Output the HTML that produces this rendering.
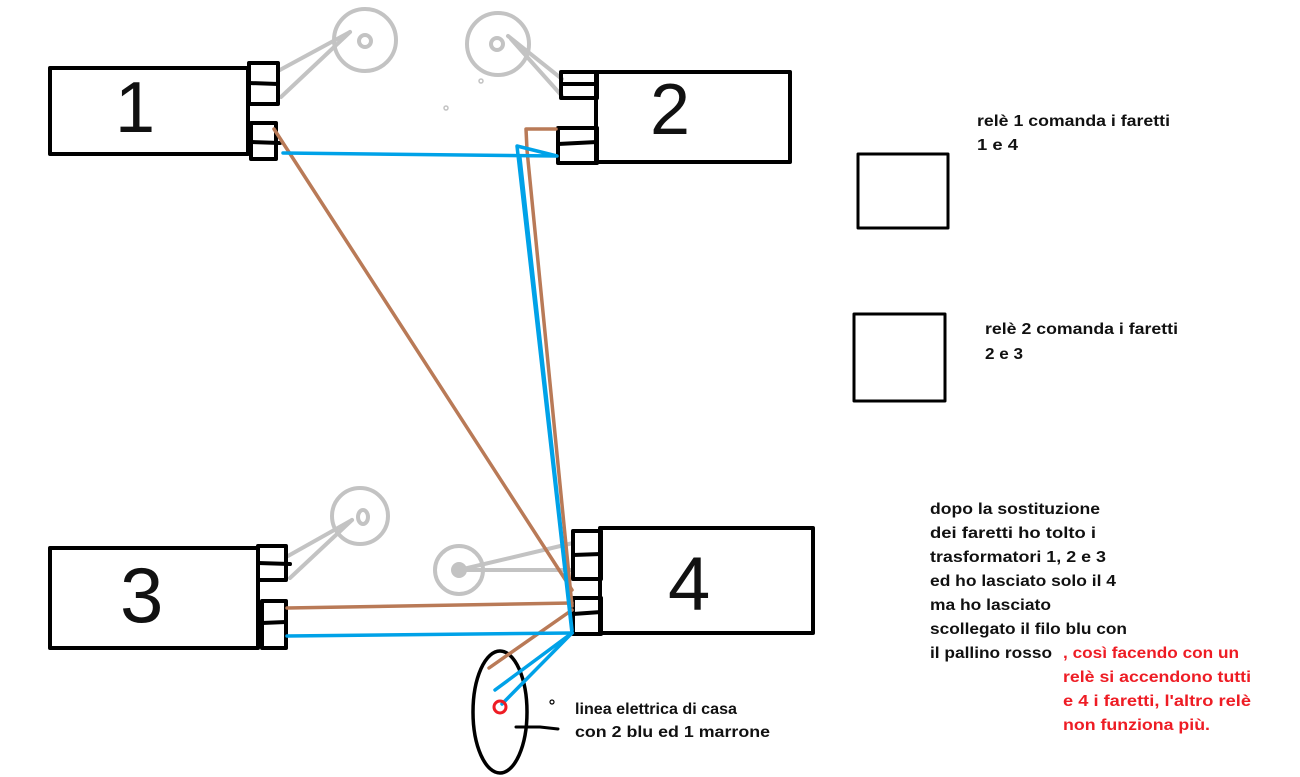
<!DOCTYPE html>
<html><head><meta charset="utf-8"><style>
html,body{margin:0;padding:0;background:#fff;}
svg{display:block;}
text{font-family:"Liberation Sans",sans-serif;font-weight:bold;font-size:16px;fill:#111;}
.r{fill:#ee1c24;}
</style></head><body>
<svg width="1300" height="777" viewBox="0 0 1300 777" xmlns="http://www.w3.org/2000/svg">
<g fill="none" stroke-linecap="round" stroke-linejoin="round">
<!-- lamps gray -->
<g stroke="#c3c3c3" stroke-width="4">
<circle cx="365" cy="40" r="31"/><circle cx="365" cy="41" r="6"/>
<line x1="278" y1="71" x2="350" y2="32"/><line x1="281" y1="97" x2="350" y2="32"/>
<circle cx="498" cy="44" r="31"/><circle cx="497" cy="44" r="6"/>
<line x1="508" y1="36" x2="562" y2="79"/><line x1="511" y1="39" x2="562" y2="96"/>
<circle cx="360" cy="516" r="28"/><ellipse cx="363" cy="517" rx="5" ry="7"/>
<line x1="288" y1="556" x2="352" y2="520"/><line x1="290" y1="578" x2="352" y2="520"/>
<circle cx="459" cy="570" r="24"/><circle cx="459" cy="570" r="6" fill="#c3c3c3"/>
<line x1="459" y1="570" x2="573" y2="543"/><line x1="459" y1="570" x2="573" y2="570"/>
<circle cx="481" cy="81" r="2" stroke-width="1.5"/><circle cx="446" cy="108" r="2" stroke-width="1.5"/>
</g>
<!-- boxes -->
<g stroke="#000" stroke-width="4">
<rect x="50" y="68" width="198" height="86"/>
<rect x="249" y="63" width="29" height="41"/><line x1="249" y1="83" x2="278" y2="84"/>
<rect x="251" y="123" width="25" height="36"/><line x1="251" y1="142" x2="280" y2="143"/>
<rect x="596" y="72" width="194" height="90"/>
<rect x="561" y="72" width="36" height="26"/><line x1="561" y1="84" x2="597" y2="84"/>
<rect x="558" y="128" width="39" height="35"/><line x1="558" y1="144" x2="597" y2="142"/>
<rect x="50" y="548" width="208" height="100"/>
<rect x="258" y="546" width="28" height="34"/><line x1="258" y1="563" x2="290" y2="564"/>
<rect x="262" y="601" width="24" height="47"/><line x1="262" y1="623" x2="286" y2="622"/>
<rect x="600" y="528" width="213" height="105"/>
<rect x="573" y="531" width="28" height="48"/><line x1="573" y1="555" x2="601" y2="554"/>
<rect x="573" y="598" width="28" height="36"/><line x1="573" y1="614" x2="601" y2="612"/>
<rect x="858" y="154" width="90" height="74" stroke-width="3"/>
<rect x="854" y="314" width="91" height="87" stroke-width="3"/>
<ellipse cx="500" cy="712" rx="27" ry="61" stroke-width="3.5"/>
<path d="M516 727 L540 727 L558 729" stroke-width="3"/>
<circle cx="552" cy="702" r="2" stroke-width="1.2"/>
</g>
<!-- brown wires -->
<g stroke="#b97a57" stroke-width="3.5">
<line x1="274" y1="129" x2="572" y2="590"/>
<path d="M556 129 L526 129 L527 150 L572 606"/>
<line x1="287" y1="608" x2="572" y2="603"/>
<line x1="572" y1="610" x2="489" y2="668"/>
</g>
<!-- blue wires -->
<g stroke="#00a2e8" stroke-width="3.5">
<path d="M283 153 L557 156 L517 146 L572 633"/>
<line x1="520" y1="158" x2="572" y2="630"/>
<line x1="287" y1="636" x2="572" y2="633"/>
<line x1="572" y1="633" x2="495" y2="690"/>
<line x1="572" y1="633" x2="502" y2="704"/>
</g>
<circle cx="500" cy="707" r="6" stroke="#ee1c24" stroke-width="3"/>
</g>
<text x="977" y="126" textLength="193" lengthAdjust="spacingAndGlyphs">relè 1 comanda i faretti</text>
<text x="977" y="150" textLength="41" lengthAdjust="spacingAndGlyphs">1 e 4</text>
<text x="985" y="334" textLength="193" lengthAdjust="spacingAndGlyphs">relè 2 comanda i faretti</text>
<text x="985" y="359" textLength="38" lengthAdjust="spacingAndGlyphs">2 e 3</text>
<text x="930" y="514" textLength="170" lengthAdjust="spacingAndGlyphs">dopo la sostituzione</text>
<text x="930" y="538" textLength="166" lengthAdjust="spacingAndGlyphs">dei faretti ho tolto i</text>
<text x="930" y="562" textLength="176" lengthAdjust="spacingAndGlyphs">trasformatori 1, 2 e 3</text>
<text x="930" y="586" textLength="186" lengthAdjust="spacingAndGlyphs">ed ho lasciato solo il 4</text>
<text x="930" y="610" textLength="121" lengthAdjust="spacingAndGlyphs">ma ho lasciato</text>
<text x="930" y="634" textLength="197" lengthAdjust="spacingAndGlyphs">scollegato il filo blu con</text>
<text x="930" y="658" textLength="122" lengthAdjust="spacingAndGlyphs">il pallino rosso</text>
<text class="r" x="1063" y="658" textLength="176" lengthAdjust="spacingAndGlyphs">, così facendo con un</text>
<text class="r" x="1063" y="682" textLength="188" lengthAdjust="spacingAndGlyphs">relè si accendono tutti</text>
<text class="r" x="1063" y="706" textLength="188" lengthAdjust="spacingAndGlyphs">e 4 i faretti, l'altro relè</text>
<text class="r" x="1063" y="730" textLength="147" lengthAdjust="spacingAndGlyphs">non funziona più.</text>
<text x="575" y="714" textLength="162" lengthAdjust="spacingAndGlyphs">linea elettrica di casa</text>
<text x="575" y="737" textLength="195" lengthAdjust="spacingAndGlyphs">con 2 blu ed 1 marrone</text>
<text x="115" y="132" style="font-family:'Liberation Sans',sans-serif;font-weight:normal;font-size:72px">1</text>
<text x="650" y="134" style="font-weight:normal;font-size:72px">2</text>
<text x="120" y="622" style="font-weight:normal;font-size:78px">3</text>
<text x="668" y="610" style="font-weight:normal;font-size:76px">4</text>
</svg>
</body></html>
